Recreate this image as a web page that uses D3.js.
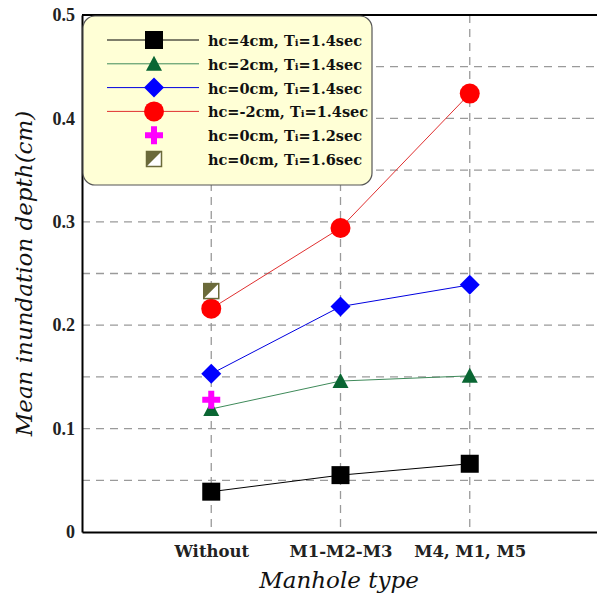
<!DOCTYPE html>
<html>
<head>
<meta charset="utf-8">
<script src="https://cdn.jsdelivr.net/npm/d3@7"></script>
<style>
	body { margin: 0; background: #fff; }
	svg { display: block; }
</style>
</head>
<body>
<div id="chart"></div>
<script>
var categories = [ "Without", "M1-M2-M3", "M4, M1, M5" ];
var yTicks = [ 0, 0.1, 0.2, 0.3, 0.4, 0.5 ];
var yGrid = [ 0.05, 0.1, 0.15, 0.2, 0.25, 0.3, 0.35, 0.4, 0.45 ];

var hc4 = [ 0.039, 0.055, 0.066 ];
var hc2 = [ 0.119, 0.146, 0.151 ];
var hc0 = [ 0.153, 0.218, 0.239 ];
var hcm2 = [ 0.216, 0.294, 0.424 ];
var hc0t12 = [ 0.128 ];
var hc0t16 = [ 0.233 ];

var series = [
	{ hc: "4cm", t: "1.4sec", values: hc4, line: "#000", shape: "square", fill: "#000" },
	{ hc: "2cm", t: "1.4sec", values: hc2, line: "#3f8a5a", shape: "triangle", fill: "#0a6633" },
	{ hc: "0cm", t: "1.4sec", values: hc0, line: "#0000e0", shape: "diamond", fill: "#0000ff" },
	{ hc: "-2cm", t: "1.4sec", values: hcm2, line: "#e03030", shape: "circle", fill: "#ff0000" },
	{ hc: "0cm", t: "1.2sec", values: hc0t12, line: null, shape: "plus", fill: "#ff00ff" },
	{ hc: "0cm", t: "1.6sec", values: hc0t16, line: null, shape: "half", fill: "#6b6a3a" }
];

var width = 597, height = 599;
var margin = { left: 82, top: 15, right: -2, bottom: 67 };

var svg = d3.select( "#chart" ).append( "svg" )
	.attr( "width", width )
	.attr( "height", height );

var x = d3.scalePoint()
	.domain( categories )
	.range( [ margin.left, width - margin.right ] )
	.padding( 1 );

var y = d3.scaleLinear()
	.domain( [ 0, 0.5 ] )
	.range( [ height - margin.bottom, margin.top ] );

var serif = "'DejaVu Serif', serif";
var times = "'Liberation Serif', serif";

// grid
var grid = svg.append( "g" )
	.attr( "stroke", "#9a9a9a" )
	.attr( "stroke-width", 1.3 )
	.attr( "stroke-dasharray", "8,6" );

grid.selectAll( "line.h" ).data( yGrid ).enter().append( "line" )
	.attr( "x1", margin.left ).attr( "x2", width )
	.attr( "y1", function( d ) { return y( d ); } )
	.attr( "y2", function( d ) { return y( d ); } );

grid.selectAll( "line.v" ).data( categories ).enter().append( "line" )
	.attr( "y1", y( 0.5 ) ).attr( "y2", y( 0 ) )
	.attr( "x1", function( d ) { return x( d ); } )
	.attr( "x2", function( d ) { return x( d ); } );

// axes
var yAxis = svg.append( "g" )
	.attr( "transform", "translate(" + margin.left + ",0)" )
	.call( d3.axisLeft( y ).tickValues( yTicks ).tickSize( 0 ).tickPadding( 7 )
		.tickFormat( function( d ) { return d == 0 ? "0" : d3.format( ".1f" )( d ); } ) );
yAxis.select( ".domain" ).attr( "stroke", "#000" ).attr( "stroke-width", 2 );
yAxis.selectAll( "text" )
	.attr( "font-family", times ).attr( "font-weight", "bold" )
	.attr( "font-size", 18 ).attr( "fill", "#222" );

var xAxis = svg.append( "g" )
	.attr( "transform", "translate(0," + y( 0 ) + ")" )
	.call( d3.axisBottom( x ).tickSize( 0 ).tickPadding( 13 ) );
xAxis.select( ".domain" ).attr( "stroke", "#000" ).attr( "stroke-width", 2 );
xAxis.selectAll( "text" )
	.attr( "font-family", serif ).attr( "font-weight", "bold" )
	.attr( "font-size", 16.5 ).attr( "fill", "#222" );

svg.append( "line" )
	.attr( "x1", margin.left ).attr( "x2", width )
	.attr( "y1", y( 0.5 ) ).attr( "y2", y( 0.5 ) )
	.attr( "stroke", "#000" ).attr( "stroke-width", 2 );

// titles
svg.append( "text" )
	.attr( "transform", "translate(32," + ( y( 0.25 ) ) + ") rotate(-90)" )
	.attr( "text-anchor", "middle" )
	.attr( "font-family", serif ).attr( "font-style", "italic" )
	.attr( "font-size", 23 ).attr( "fill", "#111" )
	.text( "Mean inundation depth(cm)" );

svg.append( "text" )
	.attr( "x", 339 ).attr( "y", 588 )
	.attr( "text-anchor", "middle" )
	.attr( "font-family", serif ).attr( "font-style", "italic" )
	.attr( "font-size", 23 ).attr( "fill", "#111" )
	.text( "Manhole type" );

// markers
var drawMarker = function( g, s )
{
	if( s.shape == "square" )
		g.append( "rect" ).attr( "x", -9 ).attr( "y", -9 ).attr( "width", 18 ).attr( "height", 18 ).attr( "fill", s.fill );
	else if( s.shape == "circle" )
		g.append( "circle" ).attr( "r", 10 ).attr( "fill", s.fill );
	else if( s.shape == "diamond" )
		g.append( "path" ).attr( "d", "M0,-10L10,0L0,10L-10,0Z" ).attr( "fill", s.fill );
	else if( s.shape == "triangle" )
		g.append( "path" ).attr( "d", "M0,-8L8,7L-8,7Z" ).attr( "fill", s.fill );
	else if( s.shape == "plus" )
		g.append( "path" ).attr( "d", "M-3,-9H3V-3H9V3H3V9H-3V3H-9V-3H-3Z" ).attr( "fill", s.fill );
	else if( s.shape == "half" )
	{
		g.append( "rect" ).attr( "x", -7.5 ).attr( "y", -7.5 ).attr( "width", 15 ).attr( "height", 15 )
			.attr( "fill", "#fff" ).attr( "stroke", s.fill ).attr( "stroke-width", 1.5 );
		g.append( "path" ).attr( "d", "M-7.5,-7.5H7.5L-7.5,7.5Z" ).attr( "fill", s.fill );
	}
};

var line = d3.line()
	.x( function( d, i ) { return x( categories[ i ] ); } )
	.y( function( d ) { return y( d ); } );

series.forEach( function( s )
{
	if( s.line )
	{
		svg.append( "path" )
			.attr( "d", line( s.values ) )
			.attr( "fill", "none" )
			.attr( "stroke", s.line )
			.attr( "stroke-width", 1 );
	}
} );

series.forEach( function( s )
{
	s.values.forEach( function( v, i )
	{
		var g = svg.append( "g" )
			.attr( "transform", "translate(" + x( categories[ i ] ) + "," + y( v ) + ")" );
		drawMarker( g, s );
	} );
} );

// legend
var legend = svg.append( "g" );
legend.append( "rect" )
	.attr( "x", 83 ).attr( "y", 16 )
	.attr( "width", 289 ).attr( "height", 169 )
	.attr( "rx", 12 ).attr( "ry", 12 )
	.attr( "fill", "#ffffd6" )
	.attr( "stroke", "#555" ).attr( "stroke-width", 1.2 );

series.forEach( function( s, i )
{
	var ly = 40 + i * 23.8;
	var row = legend.append( "g" ).attr( "transform", "translate(0," + ly + ")" );
	if( s.line )
	{
		row.append( "line" )
			.attr( "x1", 107 ).attr( "x2", 199 )
			.attr( "stroke", s.line ).attr( "stroke-width", 1 );
	}
	var m = row.append( "g" ).attr( "transform", "translate(154,0)" );
	drawMarker( m, s );

	var t = row.append( "text" )
		.attr( "x", 208 ).attr( "y", 6 )
		.attr( "font-family", serif ).attr( "font-weight", "bold" )
		.attr( "font-size", 14.5 ).attr( "fill", "#111" );
	t.append( "tspan" ).text( "hc=" + s.hc + ", T" );
	t.append( "tspan" ).attr( "font-size", 10 ).text( "i" );
	t.append( "tspan" ).text( "=" + s.t );
} );
</script>
</body>
</html>
